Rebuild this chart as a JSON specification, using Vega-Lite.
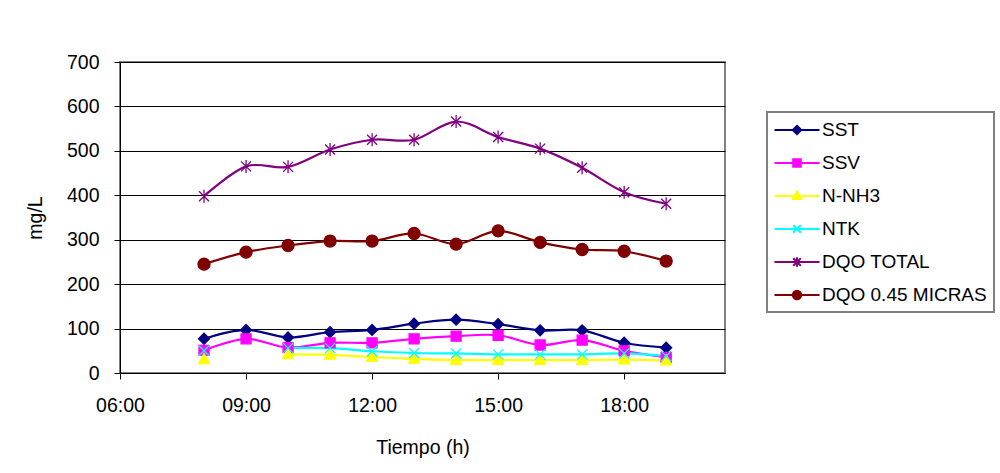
{
  "$schema": "https://vega.github.io/schema/vega-lite/v6.json",
  "autosize": "none",
  "width": 605,
  "height": 311,
  "padding": {"left": 120, "top": 62, "right": 275, "bottom": 100},
  "background": "white",
  "config": {
    "font": "Liberation Sans",
    "view": {"stroke": "#808080", "strokeWidth": 2},
    "axis": {
      "labelFont": "Liberation Sans",
      "titleFont": "Liberation Sans",
      "labelFontSize": 19.5,
      "titleFontSize": 19.5,
      "titleFontWeight": "normal",
      "labelColor": "black",
      "titleColor": "black",
      "domainColor": "black",
      "tickColor": "black",
      "gridColor": "black",
      "gridWidth": 1,
      "gridOpacity": 1
    }
  },
  "data": {
    "values": [
      {"hora": 8, "serie": "SST", "valor": 77},
      {"hora": 9, "serie": "SST", "valor": 97},
      {"hora": 10, "serie": "SST", "valor": 80},
      {"hora": 11, "serie": "SST", "valor": 92},
      {"hora": 12, "serie": "SST", "valor": 97},
      {"hora": 13, "serie": "SST", "valor": 111},
      {"hora": 14, "serie": "SST", "valor": 120},
      {"hora": 15, "serie": "SST", "valor": 110},
      {"hora": 16, "serie": "SST", "valor": 96},
      {"hora": 17, "serie": "SST", "valor": 96},
      {"hora": 18, "serie": "SST", "valor": 68},
      {"hora": 19, "serie": "SST", "valor": 57},
      {"hora": 8, "serie": "SSV", "valor": 51},
      {"hora": 9, "serie": "SSV", "valor": 77},
      {"hora": 10, "serie": "SSV", "valor": 57},
      {"hora": 11, "serie": "SSV", "valor": 68},
      {"hora": 12, "serie": "SSV", "valor": 68},
      {"hora": 13, "serie": "SSV", "valor": 77},
      {"hora": 14, "serie": "SSV", "valor": 83},
      {"hora": 15, "serie": "SSV", "valor": 85},
      {"hora": 16, "serie": "SSV", "valor": 63},
      {"hora": 17, "serie": "SSV", "valor": 74},
      {"hora": 18, "serie": "SSV", "valor": 50},
      {"hora": 19, "serie": "SSV", "valor": 35},
      {"hora": 8, "serie": "N-NH3", "valor": 31},
      {"hora": 9, "serie": "N-NH3", "valor": null},
      {"hora": 10, "serie": "N-NH3", "valor": 42},
      {"hora": 11, "serie": "N-NH3", "valor": 41},
      {"hora": 12, "serie": "N-NH3", "valor": 36},
      {"hora": 13, "serie": "N-NH3", "valor": 32},
      {"hora": 14, "serie": "N-NH3", "valor": 29},
      {"hora": 15, "serie": "N-NH3", "valor": 29},
      {"hora": 16, "serie": "N-NH3", "valor": 29},
      {"hora": 17, "serie": "N-NH3", "valor": 29},
      {"hora": 18, "serie": "N-NH3", "valor": 30},
      {"hora": 19, "serie": "N-NH3", "valor": 28},
      {"hora": 8, "serie": "NTK", "valor": 50},
      {"hora": 9, "serie": "NTK", "valor": null},
      {"hora": 10, "serie": "NTK", "valor": 56},
      {"hora": 11, "serie": "NTK", "valor": 56},
      {"hora": 12, "serie": "NTK", "valor": 49},
      {"hora": 13, "serie": "NTK", "valor": 45},
      {"hora": 14, "serie": "NTK", "valor": 44},
      {"hora": 15, "serie": "NTK", "valor": 42},
      {"hora": 16, "serie": "NTK", "valor": 42},
      {"hora": 17, "serie": "NTK", "valor": 42},
      {"hora": 18, "serie": "NTK", "valor": 44},
      {"hora": 19, "serie": "NTK", "valor": 38},
      {"hora": 8, "serie": "DQO TOTAL", "valor": 398},
      {"hora": 9, "serie": "DQO TOTAL", "valor": 465},
      {"hora": 10, "serie": "DQO TOTAL", "valor": 464},
      {"hora": 11, "serie": "DQO TOTAL", "valor": 503},
      {"hora": 12, "serie": "DQO TOTAL", "valor": 525},
      {"hora": 13, "serie": "DQO TOTAL", "valor": 525},
      {"hora": 14, "serie": "DQO TOTAL", "valor": 566},
      {"hora": 15, "serie": "DQO TOTAL", "valor": 531},
      {"hora": 16, "serie": "DQO TOTAL", "valor": 505},
      {"hora": 17, "serie": "DQO TOTAL", "valor": 462},
      {"hora": 18, "serie": "DQO TOTAL", "valor": 407},
      {"hora": 19, "serie": "DQO TOTAL", "valor": 381},
      {"hora": 8, "serie": "DQO 0.45 MICRAS", "valor": 245},
      {"hora": 9, "serie": "DQO 0.45 MICRAS", "valor": 272},
      {"hora": 10, "serie": "DQO 0.45 MICRAS", "valor": 287},
      {"hora": 11, "serie": "DQO 0.45 MICRAS", "valor": 297},
      {"hora": 12, "serie": "DQO 0.45 MICRAS", "valor": 297},
      {"hora": 13, "serie": "DQO 0.45 MICRAS", "valor": 314},
      {"hora": 14, "serie": "DQO 0.45 MICRAS", "valor": 290},
      {"hora": 15, "serie": "DQO 0.45 MICRAS", "valor": 320},
      {"hora": 16, "serie": "DQO 0.45 MICRAS", "valor": 294},
      {"hora": 17, "serie": "DQO 0.45 MICRAS", "valor": 278},
      {"hora": 18, "serie": "DQO 0.45 MICRAS", "valor": 274},
      {"hora": 19, "serie": "DQO 0.45 MICRAS", "valor": 252}
    ]
  },
  "encoding": {
    "x": {
      "field": "hora",
      "type": "quantitative",
      "scale": {"domain": [6, 20.4], "nice": false, "zero": false},
      "axis": {
        "title": "Tiempo (h)",
        "values": [6, 9, 12, 15, 18],
        "labelExpr": "(datum.value < 10 ? '0' : '') + datum.value + ':00'",
        "grid": false,
        "tickSize": 6,
        "labelPadding": 17,
        "titlePadding": 24,
        "labelFlush": false
      }
    },
    "y": {
      "field": "valor",
      "type": "quantitative",
      "scale": {"domain": [0, 700], "nice": false},
      "axis": {
        "title": "mg/L",
        "values": [0, 100, 200, 300, 400, 500, 600, 700],
        "tickSize": 6,
        "labelPadding": 15,
        "titlePadding": 21,
        "grid": true
      }
    }
  },
  "resolve": {"legend": {"color": "independent", "stroke": "independent", "shape": "independent"}},
  "layer": [
    {
      "mark": {"type": "line", "interpolate": "cardinal", "strokeWidth": 2.2, "invalid": "break-paths-show-domains"},
      "encoding": {
        "color": {
          "field": "serie",
          "type": "nominal",
          "scale": {
            "domain": ["SST", "SSV", "N-NH3", "NTK", "DQO TOTAL", "DQO 0.45 MICRAS"],
            "range": ["#000080", "#FF00FF", "#FFFF00", "#00FFFF", "#800080", "#800000"]
          },
          "legend": {
            "title": null,
            "orient": "none",
            "legendX": 647,
            "legendY": 50,
            "padding": 7,
            "strokeColor": "#808080",
            "fillColor": "white",
            "labelFont": "Liberation Sans",
            "labelFontSize": 19,
            "labelLimit": 400,
            "labelColor": "black",
            "labelOffset": 14,
            "symbolOffset": 12,
            "rowPadding": 12,
            "symbolSize": 400,
            "symbolOpacity": 1,
            "encode": {
              "legend": {"update": {"strokeWidth": {"value": 2}}},
              "symbols": {
                "update": {
                  "shape": {"signal": "datum.value == 'SST' ? 'M-2.25,0H2.25M0,-0.42L0.42,0L0,0.42L-0.42,0Z' : datum.value == 'SSV' ? 'M-2.25,0H2.25M-0.38,-0.38H0.38V0.38H-0.38Z' : datum.value == 'N-NH3' ? 'M-2.25,0H2.25M0,-0.45L0.42,0.3H-0.42Z' : datum.value == 'NTK' ? 'M-2.25,0H2.25M-0.38,-0.38L0.38,0.38M-0.38,0.38L0.38,-0.38' : datum.value == 'DQO TOTAL' ? 'M-2.25,0H2.25M-0.38,-0.38L0.38,0.38M-0.38,0.38L0.38,-0.38M0,-0.48V0.48' : 'M-2.25,0H2.25M-0.42,0A0.42,0.42,0,1,0,0.42,0A0.42,0.42,0,1,0,-0.42,0Z'"},
                  "fill": {"scale": "color", "field": "value"},
                  "strokeWidth": {"value": 2},
                  "size": {"value": 400},
                  "opacity": {"value": 1}
                }
              }
            }
          }
        }
      }
    },
    {
      "mark": {"type": "point", "filled": true, "size": 100, "opacity": 1, "strokeWidth": 1.3},
      "encoding": {
        "color": {"field": "serie", "type": "nominal", "legend": null},
        "stroke": {
          "field": "serie",
          "type": "nominal",
          "scale": {
            "domain": ["SST", "SSV", "N-NH3", "NTK", "DQO TOTAL", "DQO 0.45 MICRAS"],
            "range": ["#000080", "#FF00FF", "#FFFF00", "#00FFFF", "#800080", "#800000"]
          },
          "legend": null
        },
        "shape": {
          "field": "serie",
          "type": "nominal",
          "scale": {
            "domain": ["SST", "SSV", "N-NH3", "NTK", "DQO TOTAL", "DQO 0.45 MICRAS"],
            "range": [
              "M0,-1.1L1.1,0L0,1.1L-1.1,0Z",
              "M-1,-1H1V1H-1Z",
              "M0,-1.15L1.1,0.85H-1.1Z",
              "M-1,-1L1,1M-1,1L1,-1",
              "M-1,-1L1,1M-1,1L1,-1M0,-1.3V1.3",
              "M-1.2,0A1.2,1.2,0,1,0,1.2,0A1.2,1.2,0,1,0,-1.2,0Z"
            ]
          },
          "legend": null
        }
      }
    }
  ]
}
